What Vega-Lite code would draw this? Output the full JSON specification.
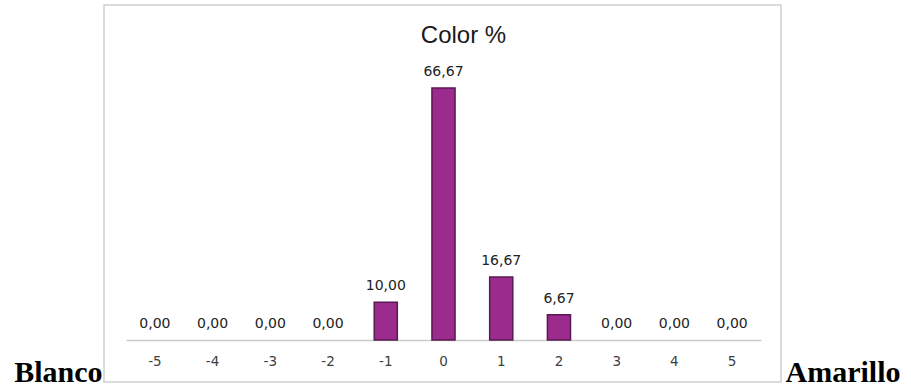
{
  "$schema": "https://vega.github.io/schema/vega-lite/v6.json",
  "width": 677,
  "height": 377,
  "padding": {"left": 13, "top": 5, "right": 4, "bottom": 0},
  "background": "white",
  "config": {
    "locale": {"number": {"decimal": ",", "thousands": ".", "grouping": [3], "currency": ["", " €"]}},
    "view": {"stroke": "#d0d0d0", "strokeWidth": 1.5},
    "axis": {"grid": false}
  },
  "title": {
    "text": "Color  %",
    "font": "Liberation Sans",
    "fontSize": 24,
    "fontWeight": "normal",
    "color": "#1a1a1a",
    "anchor": "middle",
    "baseline": "alphabetic",
    "offset": -62,
    "dx": 21
  },
  "data": {
    "values": [
      {"escala": "-5", "porcentaje": 0},
      {"escala": "-4", "porcentaje": 0},
      {"escala": "-3", "porcentaje": 0},
      {"escala": "-2", "porcentaje": 0},
      {"escala": "-1", "porcentaje": 10},
      {"escala": "0", "porcentaje": 66.67},
      {"escala": "1", "porcentaje": 16.67},
      {"escala": "2", "porcentaje": 6.67},
      {"escala": "3", "porcentaje": 0},
      {"escala": "4", "porcentaje": 0},
      {"escala": "5", "porcentaje": 0}
    ]
  },
  "encoding": {
    "x": {
      "field": "escala",
      "type": "ordinal",
      "sort": null,
      "scale": {
        "domain": ["-5", "-4", "-3", "-2", "-1", "0", "1", "2", "3", "4", "5"],
        "range": [22, 657],
        "paddingInner": 0.6,
        "paddingOuter": 0.3
      },
      "axis": {
        "title": null,
        "orient": "bottom",
        "offset": -42,
        "domainColor": "#cccccc",
        "domainWidth": 1.5,
        "ticks": false,
        "labelAngle": 0,
        "labelFont": "DejaVu Sans",
        "labelFontSize": 13.5,
        "labelColor": "#404040",
        "labelPadding": 14
      }
    },
    "y": {
      "field": "porcentaje",
      "type": "quantitative",
      "scale": {"domain": [-11.11, 88.62], "nice": false, "zero": false}
    }
  },
  "layer": [
    {
      "transform": [{"filter": "datum.porcentaje > 0"}],
      "mark": {"type": "bar", "color": "#9c2b8e", "stroke": "#5a1852", "strokeWidth": 1.5},
      "encoding": {
        "y": {
          "field": "porcentaje",
          "type": "quantitative",
          "axis": {
            "orient": "left",
            "title": "Blanco",
            "labels": false,
            "ticks": false,
            "domain": false,
            "grid": false,
            "titleAngle": 0,
            "titleAnchor": "start",
            "titleAlign": "right",
            "titleBaseline": "alphabetic",
            "titleY": 376,
            "titlePadding": 2,
            "titleFont": "Liberation Serif",
            "titleFontWeight": "bold",
            "titleFontSize": 30,
            "titleColor": "#000000"
          }
        },
        "y2": {"datum": 0}
      }
    },
    {
      "mark": {"type": "text", "baseline": "alphabetic", "dy": -12, "font": "DejaVu Sans", "fontSize": 14, "color": "#222222"},
      "encoding": {
        "text": {"field": "porcentaje", "type": "quantitative", "format": ".2f"},
        "y": {
          "field": "porcentaje",
          "type": "quantitative",
          "axis": {
            "orient": "right",
            "title": "Amarillo",
            "labels": false,
            "ticks": false,
            "domain": false,
            "grid": false,
            "titleAngle": 0,
            "titleAnchor": "start",
            "titleAlign": "left",
            "titleBaseline": "alphabetic",
            "titleY": 376,
            "titlePadding": 4,
            "titleFont": "Liberation Serif",
            "titleFontWeight": "bold",
            "titleFontSize": 30,
            "titleColor": "#000000"
          }
        }
      }
    }
  ],
  "resolve": {"axis": {"y": "independent"}}
}
